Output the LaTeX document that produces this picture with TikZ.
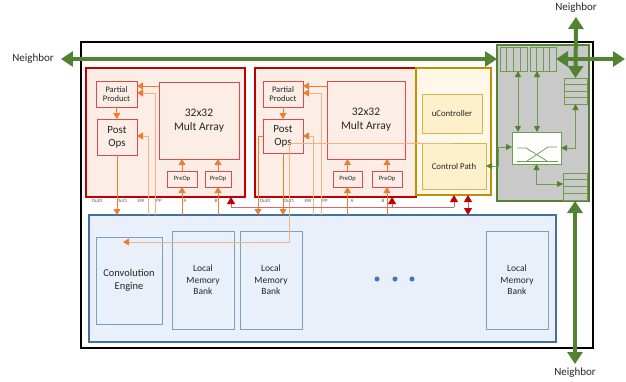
\documentclass[tikz,border=0pt]{standalone}
\usepackage{fontspec}
\setmainfont{Carlito}
\usetikzlibrary{arrows.meta,calc}
\definecolor{dred}{HTML}{C00000}
\definecolor{ired}{HTML}{DC4B4B}
\definecolor{lred}{HTML}{D06A6A}
\definecolor{pfill}{HTML}{FCEEE6}
\definecolor{org}{HTML}{ED7D31}
\definecolor{lorg}{HTML}{F4B183}
\definecolor{gold}{HTML}{BF9000}
\definecolor{lgold}{HTML}{D9B44A}
\definecolor{cream}{HTML}{FFF8E8}
\definecolor{cream2}{HTML}{FFF0CC}
\definecolor{grn}{HTML}{548235}
\definecolor{lgrn}{HTML}{6E9E4A}
\definecolor{gry}{HTML}{C9C9C9}
\definecolor{bblue}{HTML}{41719C}
\definecolor{lblue}{HTML}{E9F0F9}
\definecolor{mblue}{HTML}{7A9FC4}
\definecolor{dotb}{HTML}{4472C4}
\definecolor{txt}{HTML}{262626}
\newcommand\bx[7]{\node[#1,minimum width={(#5)-(#3)},minimum height={(#6)-(#4)}] (#2) at (#3,#4) {#7};}
\newcommand\fs[2]{\fontsize{#1}{#2}\selectfont}
\begin{document}
\begin{tikzpicture}[x=1pt,y=-1pt,
  box/.style={draw,inner sep=0pt,outer sep=0pt,anchor=north west,align=center,text=txt},
  cluster/.style={box,draw=dred,line width=2.6pt,fill=pfill},
  rbox/.style={box,draw=ired,line width=0.8pt,fill=pfill},
  gbox/.style={box,draw=lgold,line width=0.9pt,fill=cream2,font=\fs{8.8}{10}},
  mbox/.style={box,draw=mblue,line width=0.8pt,font=\fs{9.5}{11.7}},
  buf/.style={box,draw=lgrn,line width=0.8pt},
  lab/.style={inner sep=0pt,text=gray!70!black,font=\fs{5}{5}},
  oa/.style={draw=org,line width=0.9pt,-{Triangle[width=7pt,length=6pt,color=org]}},
  la/.style={draw=lorg,line width=0.9pt,-{Triangle[width=7pt,length=6pt,color=org]}},
  ra/.style={draw=lred,line width=0.9pt,-{Triangle[width=8pt,length=7pt,color=dred]}},
  ga/.style={draw=lgrn,line width=0.8pt,{Triangle[width=6pt,length=6pt,color=grn]}-{Triangle[width=6pt,length=6pt,color=grn]}},
  na/.style={draw=grn,line width=4pt,{Triangle[width=15pt,length=12pt]}-{Triangle[width=15pt,length=12pt]}},
  nlab/.style={inner sep=1pt,text=txt,font=\fs{11}{13}}]
\useasboundingbox (0,0) rectangle (626,381);
% outer chip
\bx{box,draw=black,line width=2pt}{chip}{81}{42}{593}{348}{}
% cluster 1
\bx{cluster}{c1}{86}{68}{245}{197}{}
\bx{rbox,font=\fs{8.5}{9.5}}{pp1}{96}{81}{137}{107}{Partial\\Product}
\bx{rbox,font=\fs{11}{13}}{po1}{97}{119}{137}{155}{Post\\Ops}
\bx{rbox,font=\fs{11.5}{14}}{ma1}{159}{82}{239}{159}{32x32\\Mult Array}
\bx{rbox,font=\fs{6.5}{7}}{pa1}{167}{171}{197}{187}{PreOp}
\bx{rbox,font=\fs{6.5}{7}}{pb1}{205}{171}{231}{187}{PreOp}
% cluster 2
\bx{cluster}{c2}{255}{68}{416}{197}{}
\bx{rbox,font=\fs{8.5}{9.5}}{pp2}{263}{81}{303}{107}{Partial\\Product}
\bx{rbox,font=\fs{11}{13}}{po2}{263}{119}{303}{153}{Post\\Ops}
\bx{rbox,font=\fs{11.5}{14}}{ma2}{327}{81}{405}{159}{32x32\\Mult Array}
\bx{rbox,font=\fs{6.5}{7}}{pa2}{333}{171}{362}{187}{PreOp}
\bx{rbox,font=\fs{6.5}{7}}{pb2}{372}{171}{402}{187}{PreOp}
% control
\bx{box,draw=gold,line width=2pt,fill=cream}{ctl}{416}{68}{491}{195}{}
\bx{gbox}{uc}{422}{94}{482}{133}{uController}
\bx{gbox}{cp}{422}{143}{486}{189}{Control Path}
% switch
\bx{box,draw=grn,line width=2.4pt,fill=gry}{sw}{497}{45}{589}{201}{}
\bx{buf}{bf1}{500}{47}{527}{71}{}
\bx{buf}{bf2}{530}{47}{556}{71}{}
\bx{buf}{bf3}{564}{78}{587}{104}{}
\bx{buf}{bf4}{563}{173}{587}{200}{}
\bx{buf,fill=white}{xb}{512}{132}{561}{164}{}
\foreach \b in {bf1,bf2}{\foreach \i in {1,2,3}{
  \draw[lgrn,line width=0.8pt] ($(\b.north west)!\i/4!(\b.north east)$) -- ($(\b.south west)!\i/4!(\b.south east)$);}}
\foreach \b in {bf3,bf4}{\foreach \i in {1,2,3}{
  \draw[lgrn,line width=0.8pt] ($(\b.north west)!\i/4!(\b.south west)$) -- ($(\b.north east)!\i/4!(\b.south east)$);}}
\draw[lgrn,line width=0.8pt] (517,148) -- (526,148) -- (547,161);
\draw[lgrn,line width=0.8pt] (527,161) -- (548,147) -- (557,147);
\draw[lgrn,line width=0.8pt] (517,161) -- (558,161);
% memory
\bx{box,draw=bblue,line width=2.4pt,fill=lblue}{mem}{89}{215}{556}{342}{}
\bx{mbox,font=\fs{10.5}{13}}{ce}{96}{237}{162}{324}{Convolution\\Engine}
\bx{mbox}{lm1}{172}{231}{234}{329}{Local\\Memory\\Bank}
\bx{mbox}{lm2}{240}{231}{302}{329}{Local\\Memory\\Bank}
\bx{mbox}{lm3}{486}{231}{548}{329}{Local\\Memory\\Bank}
\foreach \x [count=\k] in {377,395,412}{\node[circle,fill=dotb,inner sep=0pt,minimum size=5pt] (dot\k) at (\x,279) {};}
% port labels
\node[lab] (l1a) at (97,201) {Out0};
\node[lab] (l1b) at (122,201) {Out1};
\node[lab] (l1c) at (141,201) {EW};
\node[lab] (l1d) at (159,201) {PP};
\node[lab] (l1e) at (185,201) {A};
\node[lab] (l1f) at (216,201) {B};
\node[lab] (l2a) at (265,201) {Out0};
\node[lab] (l2b) at (289,201) {Out1};
\node[lab] (l2c) at (308,201) {EW};
\node[lab] (l2d) at (325,201) {PP};
\node[lab] (l2e) at (352,201) {A};
\node[lab] (l2f) at (383,201) {B};
% cluster 1 wiring
\draw[oa] (pp1.south) -- (po1.north);
\draw[oa] (ma1.west |- 0,86) -- (pp1.east |- 0,86);
\draw[la] (155,0 |- mem.north) -- (155,93) -- (pp1.east |- 0,93);
\draw[la] (148,0 |- mem.north) -- (148,136) -- (po1.east |- 0,136);
\draw[oa] (pa1.south |- mem.north) -- (pa1.south);
\draw[oa] (pa1.north) -- (pa1.north |- ma1.south);
\draw[oa] (pb1.south |- mem.north) -- (pb1.south);
\draw[oa] (pb1.north) -- (pb1.north |- ma1.south);
\draw[oa] (po1.south) -- (po1.south |- mem.north);
% cluster 2 wiring
\draw[oa] (pp2.south) -- (po2.north);
\draw[oa] (ma2.west |- 0,86) -- (pp2.east |- 0,86);
\draw[la] (321,0 |- mem.north) -- (321,93) -- (pp2.east |- 0,93);
\draw[la] (313,0 |- mem.north) -- (313,136) -- (po2.east |- 0,136);
\draw[oa] (pa2.south |- mem.north) -- (pa2.south);
\draw[oa] (pa2.north) -- (pa2.north |- ma2.south);
\draw[oa] (pb2.south |- mem.north) -- (pb2.south);
\draw[oa] (pb2.north) -- (pb2.north |- ma2.south);
\draw[oa] (po2.west |- 0,136) -- (258,136) -- (258,0 |- mem.north);
\draw[oa] (po2.south) -- (po2.south |- mem.north);
\coordinate (ceIn) at (123,242);
\draw[la] (453,0 |- cp.north) -- (289,143) -- (289,242) -- (ceIn);
% red control lines
\draw[lred,line width=0.9pt] (231,207) -- (454,207);
\draw[ra] (231,207) -- (231,0 |- c1.south);
\draw[ra] (392,207) -- (392,0 |- c2.south);
\draw[ra] (454,207) -- (454,0 |- ctl.south);
\draw[ra,{Triangle[width=8pt,length=7pt,color=dred]}-{Triangle[width=8pt,length=7pt,color=dred]}] (468,0 |- ctl.south) -- (468,0 |- mem.north);
% switch wiring
\draw[ga] (518,0 |- bf1.south) -- (518,0 |- xb.north);
\draw[ga] (537,0 |- bf2.south) -- (537,0 |- xb.north);
\draw[ga] (bf3.south) -- (bf3.south |- 0,148) -- (xb.east |- 0,148);
\draw[ga] (xb.south) -- (xb.south |- 0,184) -- (bf4.west |- 0,184);
\draw[ga] (xb.west |- 0,147) -- (498,147) -- (498,166) -- (cp.east |- 0,166);
% neighbors
\node[nlab] (nl) at (33,59) {Neighbor};
\node[nlab] (nt) at (576,8) {Neighbor};
\node[nlab] (nb) at (575,373) {Neighbor};
\draw[na] ([xshift=6pt]nl.east) -- (sw.west |- 0,59);
\draw[na] ([yshift=-3pt]nt.south) -- (bf3.north);
\draw[na] (bf2.east |- 0,59) -- (625,59);
\draw[na] (575,0 |- sw.south) -- ([yshift=3pt]nb.north);
\end{tikzpicture}
\end{document}
